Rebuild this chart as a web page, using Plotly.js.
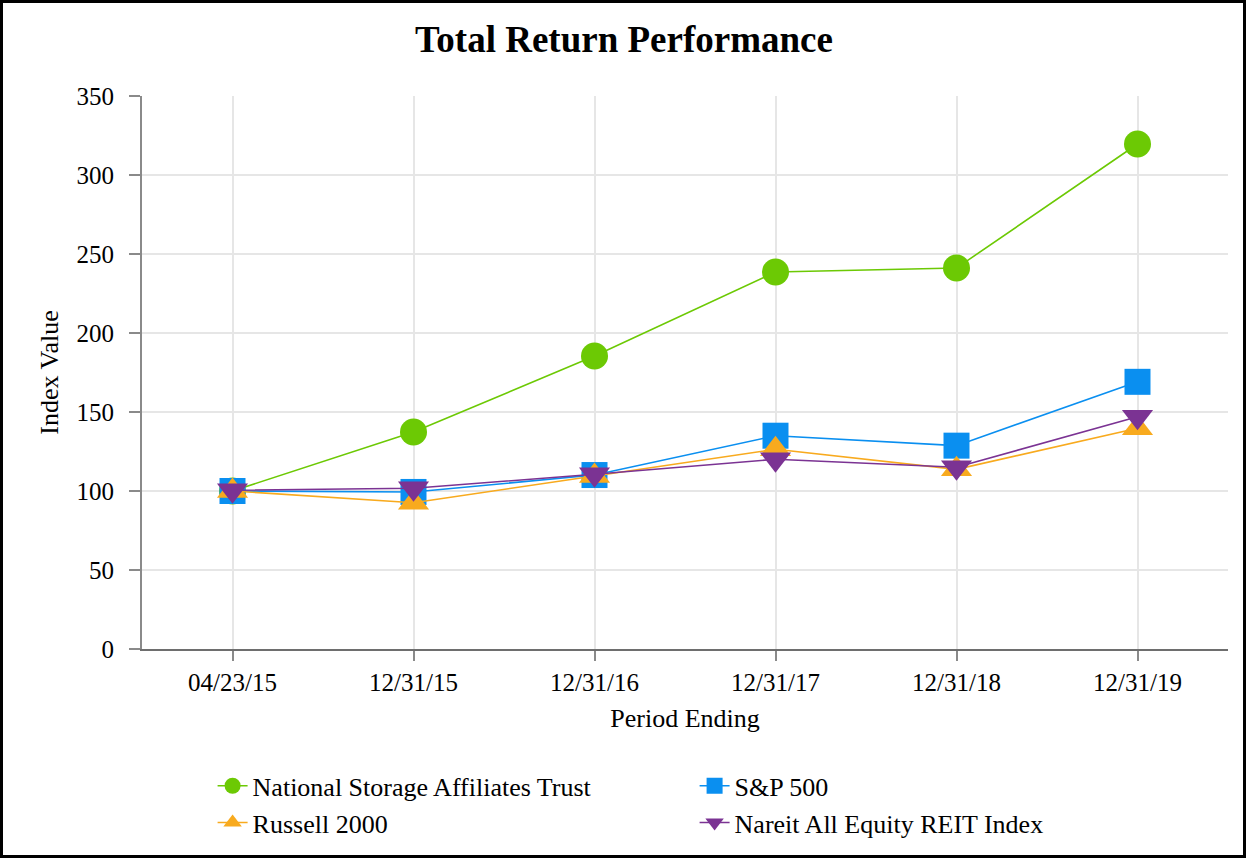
<!DOCTYPE html>
<html>
<head>
<meta charset="utf-8">
<script src="https://cdn.plot.ly/plotly-3.0.1.min.js"></script>
<style>
html,body{margin:0;padding:0;background:#fff;}
#chart{width:1248px;height:860px;}
#frame{position:absolute;left:0;top:0;width:1246px;height:858px;border:3px solid #000;box-sizing:border-box;pointer-events:none;}
</style>
</head>
<body>
<div id="chart"></div>
<div id="frame"></div>
<script>
const periods = ["04/23/15","12/31/15","12/31/16","12/31/17","12/31/18","12/31/19"];
const nsa = [100, 137.3, 185.4, 238.6, 241.1, 319.6];
const sp500 = [100, 99.4, 110.1, 135.0, 128.7, 169.1];
const russell = [100, 92.6, 109.5, 126.4, 113.7, 139.7];
const nareit = [100.5, 101.7, 110.6, 120.1, 115.0, 147.0];

const seriesNames = ["National Storage Affiliates Trust","S&P 500","Russell 2000","Nareit All Equity REIT Index"];
const seriesData = [nsa, sp500, russell, nareit];
const colors = ["#6cc904","#0a8ff0","#f8aa1e","#7b3393"];
const symbols = ["circle","square","triangle-up","triangle-down"];
const sizes = [27,26,27,27];

const traces = seriesData.map((d,i)=>({
  type:"scatter", mode:"lines+markers", name:seriesNames[i],
  x:periods, y:d,
  line:{color:colors[i], width:1.6},
  marker:{color:colors[i], symbol:symbols[i], size:sizes[i], line:{width:0}}
}));

const font = "Liberation Serif, Times New Roman, serif";
const layout = {
  width:1248, height:860,
  margin:{l:142, r:20, t:96, b:211, autoexpand:false},
  paper_bgcolor:"#fff", plot_bgcolor:"#fff",
  font:{family:font, size:25, color:"#000"},
  title:{text:"<b>Total Return Performance</b>", font:{family:font, size:37, color:"#000"}, x:0.5, xanchor:"center", y:0.955, yanchor:"middle"},
  xaxis:{type:"category", range:[-0.5,5.5], showgrid:true, gridcolor:"#e6e6e6", gridwidth:2,
    showline:true, linecolor:"#6e6e6e", linewidth:2, ticks:"outside", ticklen:10, tickcolor:"#8a8a8a", tickwidth:2,
    tickfont:{family:font, size:25, color:"#000"},
    title:{text:"Period Ending", font:{family:font, size:26, color:"#000"}, standoff:14}, zeroline:false, fixedrange:true, automargin:false},
  yaxis:{range:[0,350], dtick:50, tick0:0, showgrid:true, gridcolor:"#e6e6e6", gridwidth:2,
    showline:true, linecolor:"#8a8a8a", linewidth:2, ticks:"outside", ticklen:11, tickcolor:"#8a8a8a", tickwidth:2,
    ticklabelstandoff:10,
    tickfont:{family:font, size:25, color:"#000"},
    title:{text:"Index Value", font:{family:font, size:26, color:"#000"}, standoff:10}, zeroline:false, fixedrange:true, automargin:false},
  showlegend:true,
  legend:{orientation:"h", x:0.065, xanchor:"left", y:-0.205, yanchor:"top",
    entrywidth:437, entrywidthmode:"pixels", font:{family:font, size:26, color:"#000"},
    traceorder:"normal", bgcolor:"rgba(0,0,0,0)", tracegroupgap:0}
};

Plotly.newPlot("chart", traces, layout, {displayModeBar:false, staticPlot:true});
</script>
</body>
</html>
